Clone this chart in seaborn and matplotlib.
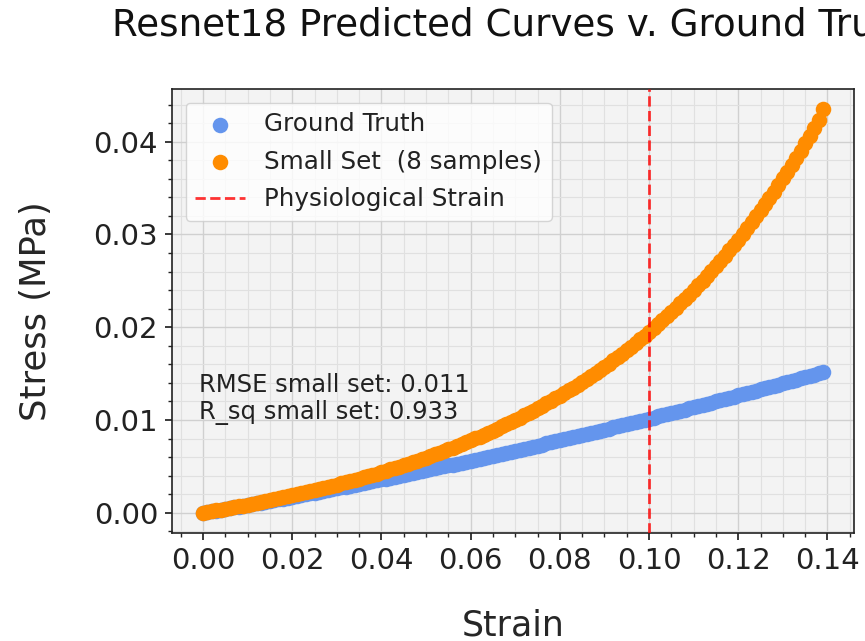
import matplotlib
matplotlib.use("Agg")
import matplotlib.pyplot as plt
import seaborn as sns
import pandas as pd
from matplotlib.ticker import AutoMinorLocator

# ---- data ----
strain = [
    0.000, 0.001, 0.002, 0.003, 0.004, 0.005, 0.006, 0.007, 0.008, 0.009,
    0.010, 0.011, 0.012, 0.013, 0.014, 0.015, 0.016, 0.017, 0.018, 0.019,
    0.020, 0.021, 0.022, 0.023, 0.024, 0.025, 0.026, 0.027, 0.028, 0.029,
    0.030, 0.031, 0.032, 0.033, 0.034, 0.035, 0.036, 0.037, 0.038, 0.039,
    0.040, 0.041, 0.042, 0.043, 0.044, 0.045, 0.046, 0.047, 0.048, 0.049,
    0.050, 0.051, 0.052, 0.053, 0.054, 0.055, 0.056, 0.057, 0.058, 0.059,
    0.060, 0.061, 0.062, 0.063, 0.064, 0.065, 0.066, 0.067, 0.068, 0.069,
    0.070, 0.071, 0.072, 0.073, 0.074, 0.075, 0.076, 0.077, 0.078, 0.079,
    0.080, 0.081, 0.082, 0.083, 0.084, 0.085, 0.086, 0.087, 0.088, 0.089,
    0.090, 0.091, 0.092, 0.093, 0.094, 0.095, 0.096, 0.097, 0.098, 0.099,
    0.100, 0.101, 0.102, 0.103, 0.104, 0.105, 0.106, 0.107, 0.108, 0.109,
    0.110, 0.111, 0.112, 0.113, 0.114, 0.115, 0.116, 0.117, 0.118, 0.119,
    0.120, 0.121, 0.122, 0.123, 0.124, 0.125, 0.126, 0.127, 0.128, 0.129,
    0.130, 0.131, 0.132, 0.133, 0.134, 0.135, 0.136, 0.137, 0.138, 0.139,
]

ground_truth = [
    0.000000, 0.000082, 0.000165, 0.000248, 0.000332, 0.000415, 0.000500, 0.000584, 0.000669, 0.000755,
    0.000840, 0.000927, 0.001013, 0.001100, 0.001187, 0.001275, 0.001364, 0.001452, 0.001541, 0.001630,
    0.001720, 0.001810, 0.001900, 0.001991, 0.002082, 0.002174, 0.002266, 0.002358, 0.002451, 0.002544,
    0.002638, 0.002731, 0.002826, 0.002921, 0.003015, 0.003111, 0.003207, 0.003303, 0.003400, 0.003497,
    0.003594, 0.003692, 0.003790, 0.003889, 0.003988, 0.004087, 0.004188, 0.004287, 0.004388, 0.004489,
    0.004590, 0.004692, 0.004794, 0.004896, 0.004999, 0.005102, 0.005206, 0.005310, 0.005415, 0.005519,
    0.005624, 0.005730, 0.005836, 0.005942, 0.006049, 0.006156, 0.006264, 0.006371, 0.006480, 0.006589,
    0.006698, 0.006807, 0.006917, 0.007027, 0.007137, 0.007249, 0.007361, 0.007472, 0.007584, 0.007697,
    0.007810, 0.007923, 0.008036, 0.008151, 0.008265, 0.008380, 0.008496, 0.008611, 0.008727, 0.008844,
    0.008960, 0.009078, 0.009195, 0.009313, 0.009431, 0.009550, 0.009670, 0.009789, 0.009909, 0.010029,
    0.010150, 0.010271, 0.010393, 0.010515, 0.010637, 0.010760, 0.010882, 0.011006, 0.011129, 0.011254,
    0.011378, 0.011504, 0.011629, 0.011755, 0.011881, 0.012007, 0.012134, 0.012261, 0.012389, 0.012517,
    0.012646, 0.012775, 0.012904, 0.013033, 0.013164, 0.013294, 0.013425, 0.013556, 0.013687, 0.013819,
    0.013952, 0.014084, 0.014218, 0.014351, 0.014485, 0.014619, 0.014754, 0.014889, 0.015024, 0.015160,
]

small_set = [
    0.000000, 0.000083, 0.000166, 0.000251, 0.000337, 0.000424, 0.000512, 0.000601, 0.000692, 0.000783,
    0.000876, 0.000971, 0.001065, 0.001162, 0.001261, 0.001360, 0.001461, 0.001563, 0.001667, 0.001772,
    0.001878, 0.001987, 0.002096, 0.002208, 0.002321, 0.002436, 0.002551, 0.002670, 0.002790, 0.002911,
    0.003035, 0.003160, 0.003287, 0.003416, 0.003548, 0.003681, 0.003816, 0.003954, 0.004094, 0.004235,
    0.004379, 0.004525, 0.004673, 0.004825, 0.004978, 0.005135, 0.005292, 0.005454, 0.005618, 0.005783,
    0.005953, 0.006125, 0.006299, 0.006477, 0.006658, 0.006842, 0.007028, 0.007218, 0.007411, 0.007607,
    0.007807, 0.008010, 0.008216, 0.008427, 0.008641, 0.008859, 0.009079, 0.009305, 0.009534, 0.009767,
    0.010004, 0.010246, 0.010490, 0.010741, 0.010995, 0.011254, 0.011517, 0.011786, 0.012059, 0.012336,
    0.012619, 0.012907, 0.013200, 0.013499, 0.013803, 0.014113, 0.014427, 0.014748, 0.015075, 0.015407,
    0.015746, 0.016091, 0.016441, 0.016799, 0.017164, 0.017535, 0.017913, 0.018298, 0.018691, 0.019089,
    0.019496, 0.019911, 0.020332, 0.020763, 0.021202, 0.021648, 0.022102, 0.022566, 0.023039, 0.023519,
    0.024009, 0.024509, 0.025017, 0.025536, 0.026065, 0.026604, 0.027152, 0.027711, 0.028281, 0.028862,
    0.029454, 0.030057, 0.030671, 0.031298, 0.031937, 0.032588, 0.033251, 0.033927, 0.034617, 0.035319,
    0.036035, 0.036766, 0.037509, 0.038268, 0.039041, 0.039830, 0.040633, 0.041452, 0.042287, 0.043500,
]

physiological_strain = 0.1
title = "Resnet18 Predicted Curves v. Ground Truth"
metrics_text = "RMSE small set: 0.011\nR_sq small set: 0.933"

# ---- style ----
sns.set_theme(style="ticks")
plt.rcParams.update({
    "font.family": ["DejaVu Sans"],
    "axes.facecolor": "#f3f3f3",
    "axes.edgecolor": "#222222",
    "axes.linewidth": 1.2,
    "xtick.direction": "out",
    "ytick.direction": "out",
    "xtick.major.size": 5,
    "ytick.major.size": 5,
    "xtick.minor.size": 3,
    "ytick.minor.size": 3,
    "xtick.color": "#222222",
    "ytick.color": "#222222",
})

fig = plt.figure(figsize=(8.65, 6.41), dpi=100)
ax = fig.add_axes([172 / 865, 1 - 533 / 641, 682 / 865, 444 / 641])

df_gt = pd.DataFrame({"strain": strain, "stress": ground_truth})
df_ss = pd.DataFrame({"strain": strain, "stress": small_set})

sns.scatterplot(data=df_gt, x="strain", y="stress", ax=ax, color="cornflowerblue",
                s=125, linewidth=0, label="Ground Truth", zorder=3)
sns.scatterplot(data=df_ss, x="strain", y="stress", ax=ax, color="darkorange",
                s=125, linewidth=0, label="Small Set  (8 samples)", zorder=4)
ax.axvline(physiological_strain, color="red", alpha=0.8, linestyle="--", linewidth=2,
           label="Physiological Strain", zorder=5)

ax.xaxis.set_minor_locator(AutoMinorLocator())
ax.yaxis.set_minor_locator(AutoMinorLocator())
ax.grid(which="major", color="#d0d0d0", linewidth=1.0, zorder=0)
ax.grid(which="minor", color="#e0e0e0", linewidth=0.8, zorder=0)
ax.set_axisbelow(True)

ax.set_xticks([0.00, 0.02, 0.04, 0.06, 0.08, 0.10, 0.12, 0.14])
ax.set_yticks([0.00, 0.01, 0.02, 0.03, 0.04])
ax.tick_params(axis="both", which="major", labelsize=21, pad=5)

ax.set_xlabel("Strain", fontsize=25, labelpad=24)
ax.set_ylabel("Stress (MPa)", fontsize=25.5, labelpad=29)

ax.text(-0.001, 0.0151, metrics_text, fontsize=17.5, va="top", ha="left",
        linespacing=1.15, color="#222222", zorder=6)

leg = ax.legend(loc="upper left", fontsize=17.7, frameon=True, framealpha=0.8,
                edgecolor="#cccccc", facecolor="white", borderaxespad=0.55,
                labelspacing=0.55)
for t in leg.get_texts():
    t.set_color("#222222")

fig.text(112 / 865, 1 - 35 / 641, title, fontsize=26.8, ha="left", va="baseline",
         color="#111111")

fig.savefig("out.png", dpi=100)
